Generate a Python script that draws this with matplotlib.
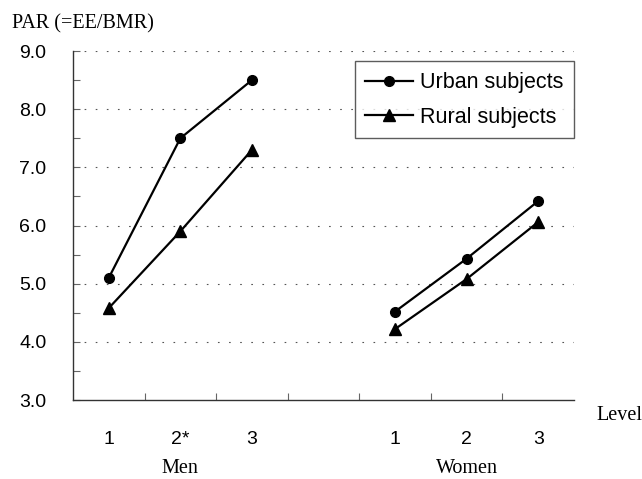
import matplotlib
matplotlib.use('Agg')
from matplotlib import pyplot as plt
from matplotlib.transforms import blended_transform_factory
import numpy as np

# Values (PAR by activity level).
groups = ['Men', 'Women']
level_labels = ['1', '2*', '3', '', '1', '2', '3']
urban_men = [5.1, 7.5, 8.5]
rural_men = [4.58, 5.9, 7.3]
urban_women = [4.52, 5.43, 6.42]
rural_women = [4.22, 5.08, 6.06]

sans = ['Liberation Sans', 'DejaVu Sans']
serif = ['Liberation Serif', 'DejaVu Serif']

fig = plt.figure(figsize=(6.42, 4.79), dpi=100)
ax = fig.add_axes([0.1137, 0.1649, 0.7803, 0.7286])

x_men = np.arange(3)
x_women = np.arange(3) + 4

# Urban (circles), rural (triangles); the two sexes are drawn as separate segments.
ax.plot(x_men, urban_men, color='black', marker='o', ms=7, lw=1.6, label='Urban subjects')
ax.plot(x_women, urban_women, color='black', marker='o', ms=7, lw=1.6)
ax.plot(x_men, rural_men, color='black', marker='^', ms=8.5, lw=1.6, label='Rural subjects')
ax.plot(x_women, rural_women, color='black', marker='^', ms=8.5, lw=1.6)

ax.set_xlim(-0.5, 6.5)
ax.set_ylim(3.0, 9.0)

# y axis: labelled ticks every 1.0, small ticks at the halves
ax.set_yticks(np.arange(3.0, 9.01, 1.0))
ax.set_yticks(np.arange(3.5, 9.0, 1.0), minor=True)
ax.set_yticklabels(['%.1f' % v for v in np.arange(3.0, 9.01, 1.0)],
                   family=sans, fontsize=14)
ax.tick_params(axis='y', which='both', direction='in', length=5, width=0.8,
               color='#666666', pad=19)

# x axis: labels at the level positions, tick marks at the boundaries
ax.set_xticks(np.arange(7))
ax.set_xticklabels(level_labels, family=sans, fontsize=14)
ax.set_xticks(np.arange(0.5, 6.0, 1.0), minor=True)
ax.tick_params(axis='x', which='major', length=0, pad=22)
ax.tick_params(axis='x', which='minor', direction='in', length=5, width=0.8,
               color='#666666')

for v in np.arange(4.0, 9.01, 1.0):
    ax.axhline(v, color='#555555', lw=0.8, ls=(0, (1.5, 8.5)), zorder=0)

ax.spines['top'].set_visible(False)
ax.spines['right'].set_visible(False)
for s in ['left', 'bottom']:
    ax.spines[s].set_linewidth(1.0)
    ax.spines[s].set_color('#333333')

trans = blended_transform_factory(ax.transData, ax.transAxes)
ax.text(1, -0.208, groups[0], transform=trans, ha='center', va='baseline',
        family=serif, fontsize=14.5)
ax.text(5, -0.208, groups[1], transform=trans, ha='center', va='baseline',
        family=serif, fontsize=14.5)
ax.text(1.045, -0.057, 'Level', transform=ax.transAxes, ha='left', va='baseline',
        family=serif, fontsize=14.5)
fig.text(0.018, 0.9395, 'PAR (=EE/BMR)', ha='left', va='baseline',
         family=serif, fontsize=14.5)

leg = ax.legend(loc='upper right', bbox_to_anchor=(1.0, 0.97),
                prop={'family': sans, 'size': 15.5}, frameon=True, fancybox=False,
                handlelength=2.2, handletextpad=0.33, borderpad=0.5,
                labelspacing=0.62, borderaxespad=0.0)
leg.get_frame().set_edgecolor('#333333')
leg.get_frame().set_linewidth(1.0)

fig.savefig('out.png', dpi=100)
